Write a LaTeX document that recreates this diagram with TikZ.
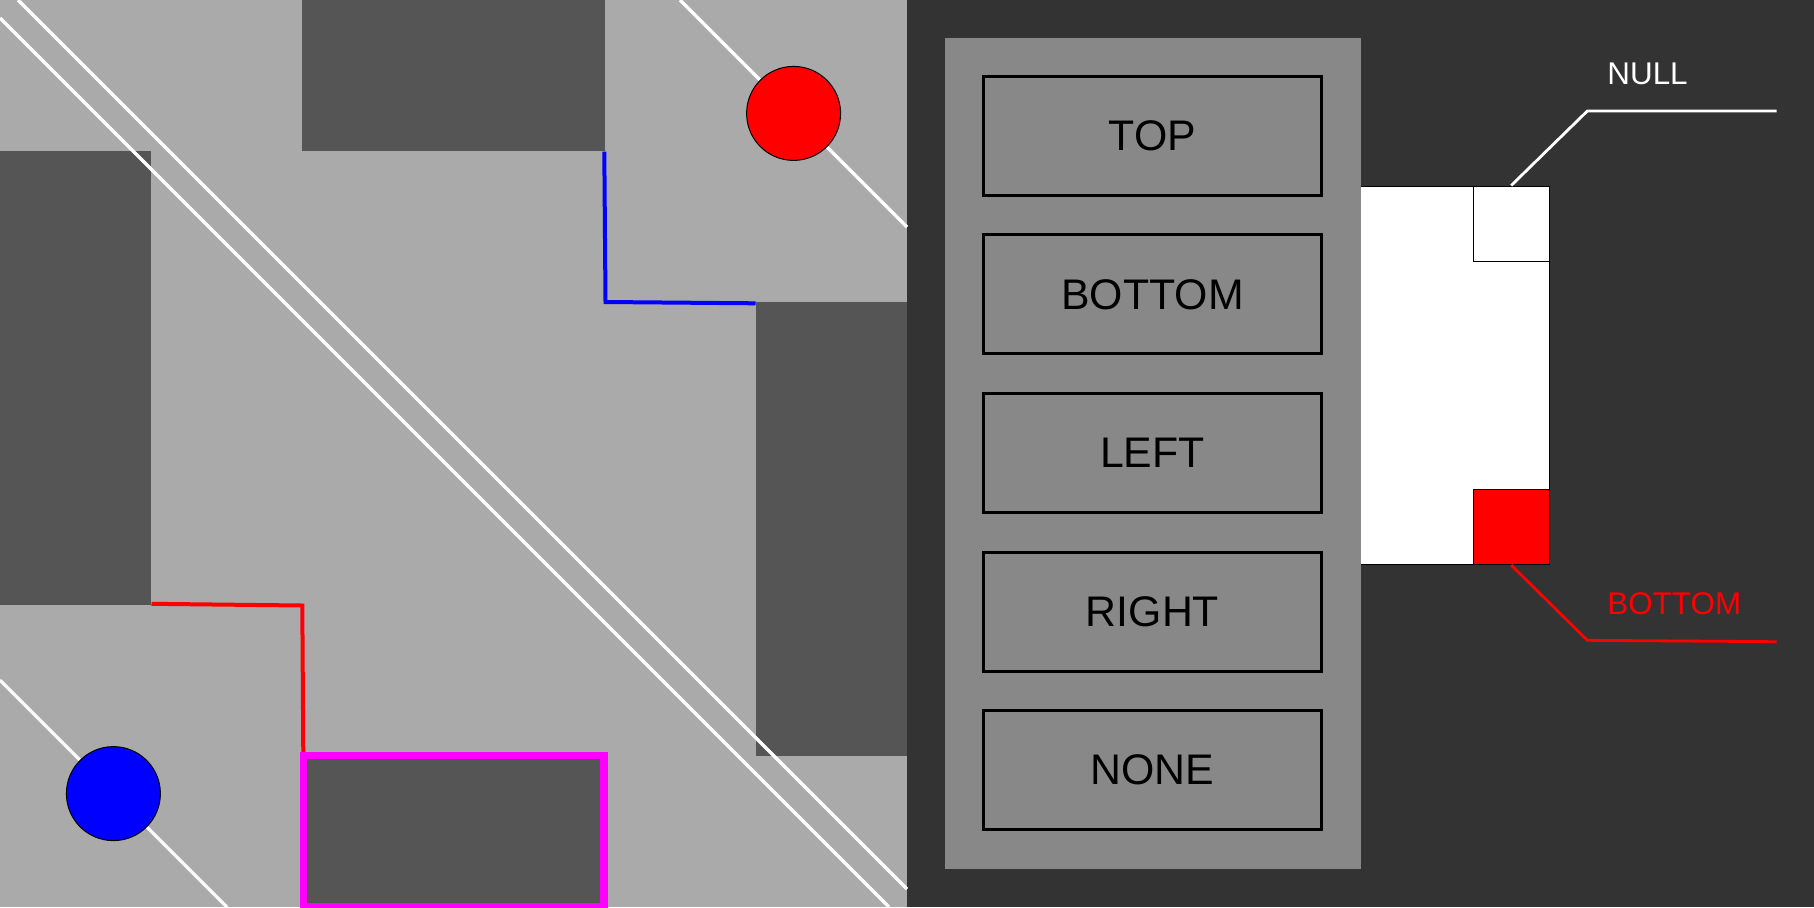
\documentclass[tikz,border=0pt]{standalone}
\usepackage{fontspec}
\setmainfont{Liberation Sans}
\definecolor{lgray}{HTML}{AAAAAA}
\definecolor{dgray}{HTML}{555555}
\definecolor{bgdark}{HTML}{333333}
\definecolor{panelgray}{HTML}{888888}
\definecolor{magentac}{HTML}{FF00FF}
\begin{document}
\begin{tikzpicture}[x=0.5pt,y=-0.5pt,
  block/.style={fill=dgray},
  wline/.style={draw=white,line width=1.6pt},
  pathline/.style={line width=2pt},
  ball/.style={circle,draw=black,line width=0.5pt,minimum size=47pt,inner sep=0pt},
  dirbutton/.style={rectangle,draw=black,line width=1.5pt,minimum width=169pt,minimum height=59.5pt,inner sep=0pt,font=\fontsize{21.4}{25}\selectfont,text=black},
  cell/.style={rectangle,draw=black,line width=0.5pt,minimum size=37.8pt,inner sep=0pt},
  leader/.style={line width=1.4pt},
  tag/.style={anchor=base west,inner sep=0pt,font=\fontsize{15.7}{18}\selectfont}]
\useasboundingbox (0,0) rectangle (1814,907);
% backgrounds
\fill[lgray] (0,0) rectangle (907,907);
\fill[bgdark] (907,0) rectangle (1814,907);
% dark blocks
\fill[block] (302.3,0) rectangle (604.7,151.2);
\fill[block] (0,151.2) rectangle (151.2,604.7);
\fill[block] (755.8,302.3) rectangle (907,755.8);
\fill[block] (302.3,755.8) rectangle (604.7,907);
% white diagonal lines
\draw[wline] (18,0) -- (907,889);
\draw[wline] (0,18) -- (889,907);
\draw[wline] (680,0) -- (907,227);
\draw[wline] (0,680) -- (227,907);
% balls
\node[ball,fill=red] (redball) at (793.6,113.4) {};
\node[ball,fill=blue] (blueball) at (113.4,793.6) {};
% blue path
\coordinate (b1) at (604.3,151.7);
\coordinate (b2) at (605.5,302);
\coordinate (b3) at (755.5,303.3);
\draw[pathline,blue] (b1) -- (b2) -- (b3);
% red path
\coordinate (r1) at (151.5,603.8);
\coordinate (r2) at (302.3,605.5);
\coordinate (r3) at (303.3,755);
\draw[pathline,red] (r1) -- (r2) -- (r3);
% magenta frame
\draw[magentac,line width=3.75pt] (303.5,755.7) rectangle (604,907);
% right panel
\fill[panelgray] (944.8,37.8) rectangle (1360.5,869.2);
\node[dirbutton] (top) at (1152.5,135.8) {TOP};
\node[dirbutton] (bottom) at (1152.5,294.4) {BOTTOM};
\node[dirbutton] (left) at (1152.5,453) {LEFT};
\node[dirbutton] (right) at (1152.5,611.6) {RIGHT};
\node[dirbutton] (none) at (1152.5,770.2) {NONE};
% white cell box
\fill[white] (1360.5,186) rectangle (1549,564.3);
\draw[black,line width=0.5pt] (1360.5,186) -- (1549,186) -- (1549,564.3) -- (1360.5,564.3);
\node[cell,fill=white] (nullbox) at (1511.2,223.8) {};
\node[cell,fill=red] (redbox) at (1511.2,526.8) {};
% leaders and labels
\coordinate (n1) at (1587.3,111);
\coordinate (n2) at (1776.7,111);
\draw[leader,white] (nullbox.north) -- (n1) -- (n2);
\node[tag,text=white] (nulltag) at (1607,84.3) {NULL};
\coordinate (m1) at (1587.3,640.3);
\coordinate (m2) at (1776.7,641.7);
\draw[leader,red] (redbox.south) -- (m1) -- (m2);
\node[tag,text=red] (bottomtag) at (1607,614.3) {BOTTOM};
\end{tikzpicture}
\end{document}
